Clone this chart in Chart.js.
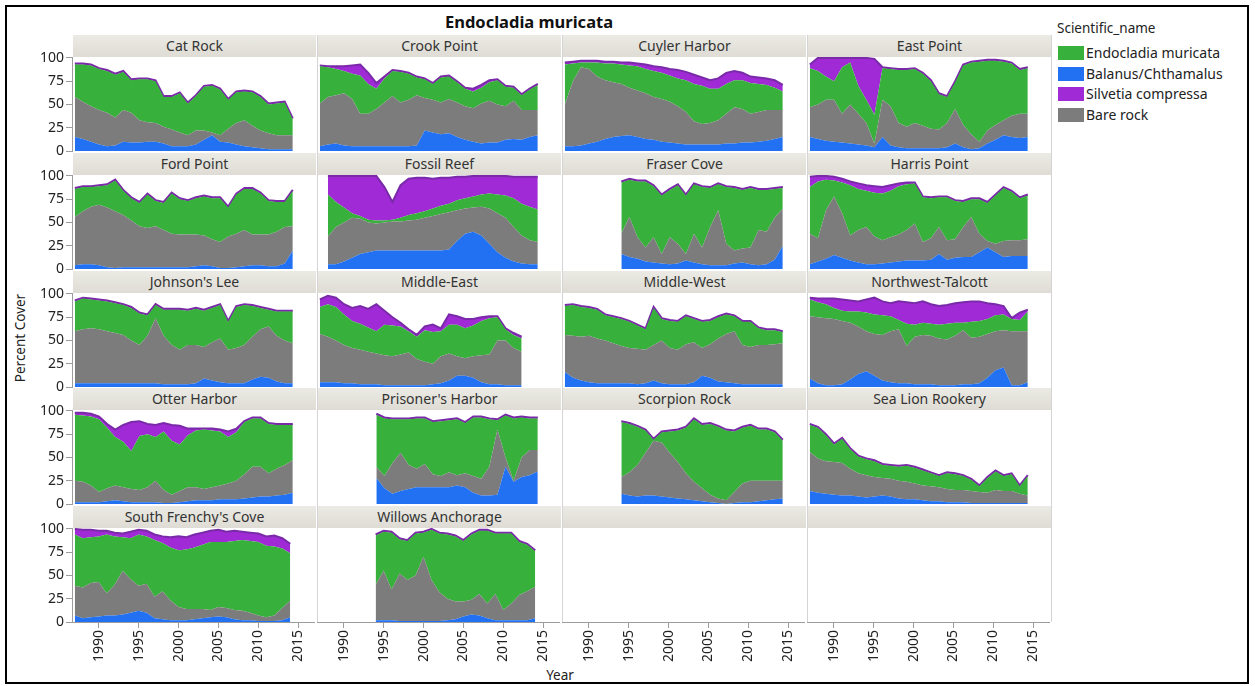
<!DOCTYPE html>
<html><head><meta charset="utf-8">
<script src="https://cdn.jsdelivr.net/npm/chart.js@4.4.1/dist/chart.umd.min.js"></script>
<style>
html,body{margin:0;padding:0;background:#fff}
body{width:1255px;height:686px;position:relative;overflow:hidden;font-family:"Noto Sans","DejaVu Sans",sans-serif;color:#222}
#frame{position:absolute;left:5px;top:5px;width:1244px;height:679px;border:2px solid #000;box-sizing:border-box}
.strip{position:absolute;height:22px;line-height:22px;text-align:center;font-size:14px;color:#333;background:linear-gradient(#ebeae4,#dedcd4);white-space:nowrap}
.vline{position:absolute;width:1px;background:#d4d4d4}
canvas{position:absolute}
.txt{position:absolute;white-space:nowrap}
.sw{position:absolute;width:26px;height:14px}
</style></head><body>
<div id="frame"></div>
<script>
// ---------------- DATA ----------------
const YEARS = [1987,1988,1989,1990,1991,1992,1993,1994,1995,1996,1997,1998,1999,2000,2001,2002,2003,2004,2005,2006,2007,2008,2009,2010,2011,2012,2013,2014];
const X_TICKS = [1990,1995,2000,2005,2010,2015];
const Y_TICKS = [0,25,50,75,100];
const ONES28 = [1,1,1,1,1,1,1,1,1,1,1,1,1,1,1,1,1,1,1,1,1,1,1,1,1,1,1,1];
const ONES21 = [1,1,1,1,1,1,1,1,1,1,1,1,1,1,1,1,1,1,1,1,1];

const catRock = {name:"Cat Rock", start:1987,
  balanus:[15,13,10,7,5,6,10,9,9,10,10,8,5,5,5,7,12,17,10,9,7,5,4,3,2,2,2,2],
  bare:[43,40,38,37,36,30,34,32,24,21,20,18,18,15,12,15,10,3,7,15,23,28,23,19,17,15,15,15],
  endocladia:[35,40,44,44,45,46,41,35,44,46,45,32,35,42,34,37,47,50,49,31,33,31,36,36,31,34,35,17],
  silvetia:ONES28};
const crookPoint = {name:"Crook Point", start:1987,
  balanus:[5,7,8,6,5,5,5,5,5,5,5,5,6,22,20,18,19,15,12,10,8,9,9,12,13,12,15,17],
  bare:[46,51,52,56,51,35,35,40,47,54,47,50,54,35,35,34,37,37,36,36,43,45,41,36,41,32,29,27],
  endocladia:[40,32,28,24,27,41,32,22,26,27,33,28,19,20,17,27,24,22,19,18,17,20,26,21,14,16,22,27],
  silvetia:[1,1,3,5,9,12,12,6,2,1,1,1,1,1,1,1,1,1,1,3,3,2,1,1,1,1,1,1]};
const cuylerHarbor = {name:"Cuyler Harbor", start:1987,
  balanus:[5,5,6,8,10,13,15,16,17,15,13,12,10,9,8,7,7,7,7,7,8,8,9,9,10,11,13,15],
  bare:[45,70,84,80,70,63,59,56,51,50,49,46,46,44,40,35,25,22,23,26,32,39,36,31,32,33,31,29],
  endocladia:[43,19,5,7,15,18,20,21,24,26,26,28,28,28,30,34,40,41,37,34,32,29,31,33,30,27,24,20],
  silvetia:[2,2,2,2,2,2,2,2,3,3,5,5,6,7,9,9,10,9,9,11,12,10,8,7,7,7,8,7]};
const eastPoint = {name:"East Point", start:1987,
  balanus:[15,13,11,10,9,8,7,6,4,15,6,4,3,3,3,3,3,4,8,4,2,3,8,12,17,15,14,15],
  bare:[32,37,44,45,31,42,33,24,4,40,42,26,23,27,24,21,20,26,37,24,16,7,14,16,16,23,26,25],
  endocladia:[42,36,25,20,50,45,30,25,31,34,40,57,61,58,56,51,38,28,29,64,77,86,75,69,63,56,47,49],
  silvetia:[4,14,20,25,10,5,30,45,60,1,1,1,1,1,1,1,1,1,1,1,1,1,1,1,1,1,1,1]};
const fordPoint = {name:"Ford Point", start:1987,
  balanus:[4,5,5,4,2,1,2,2,2,2,2,2,2,2,2,3,4,3,1,1,2,3,4,4,3,3,6,20],
  bare:[52,57,62,65,64,61,56,50,44,42,44,40,36,35,35,34,32,29,28,34,36,39,33,33,34,37,39,26],
  endocladia:[30,26,21,20,24,33,26,24,25,36,27,29,43,38,36,39,42,44,47,31,42,44,49,44,36,32,27,38],
  silvetia:ONES28};
const fossilReef = {name:"Fossil Reef", start:1988,
  balanus:[5,5,8,12,16,18,20,20,20,20,20,20,20,20,20,21,30,38,40,36,27,18,12,8,6,5,5],
  bare:[30,40,42,43,38,32,29,30,31,31,32,33,35,37,39,40,33,27,26,31,38,42,43,37,30,26,24],
  endocladia:[45,27,16,5,3,3,3,2,2,4,6,7,7,8,9,9,11,11,12,13,16,20,24,31,34,36,35],
  silvetia:[20,28,34,40,43,47,48,36,19,35,39,38,36,32,30,28,25,23,22,20,19,20,21,23,29,32,35]};
const fraserCove = {name:"Fraser Cove", start:1994,
  balanus:[16,13,11,8,7,6,5,6,9,7,5,4,4,4,6,7,5,4,5,10,25],
  bare:[22,43,23,15,27,10,29,21,7,31,18,41,59,23,14,15,18,38,35,45,40],
  endocladia:[55,40,60,71,55,63,51,63,63,53,65,42,28,61,67,63,64,43,45,31,22],
  silvetia:ONES21};
const harrisPoint = {name:"Harris Point", start:1987,
  balanus:[5,8,11,15,12,9,7,5,5,6,7,8,9,9,9,10,16,10,12,13,13,18,23,18,13,14,14,14],
  bare:[33,25,52,63,48,27,35,40,30,25,27,29,33,40,20,23,29,21,20,32,43,20,7,9,17,17,17,18],
  endocladia:[50,61,33,17,33,54,44,39,47,50,50,52,49,43,48,43,32,46,41,27,19,37,41,52,57,52,45,47],
  silvetia:[11,6,4,4,4,4,6,6,7,7,6,3,2,1,1,1,1,1,1,1,1,1,1,1,1,1,1,1]};
const johnsonsLee = {name:"Johnson's Lee", start:1987,
  balanus:[4,4,4,4,4,4,4,4,4,4,4,3,3,3,3,4,9,7,5,4,4,4,8,11,10,6,4,4],
  bare:[56,58,59,58,56,54,52,46,41,51,70,52,42,37,42,41,34,41,47,36,38,41,46,51,55,49,46,43],
  endocladia:[32,33,31,31,32,32,32,35,34,22,14,28,38,43,37,39,39,37,36,30,44,43,33,23,18,26,31,34],
  silvetia:ONES28};
const middleEast = {name:"Middle-East", start:1987,
  balanus:[5,5,5,4,4,3,3,3,2,2,2,2,2,2,3,4,7,12,12,10,5,3,3,2,2,2],
  bare:[52,49,45,41,38,37,35,33,32,31,33,35,28,25,22,29,29,21,19,23,29,32,47,48,40,36],
  endocladia:[29,35,36,33,29,28,26,24,33,33,30,23,24,34,34,27,31,34,32,33,37,39,25,12,14,14],
  silvetia:[8,9,10,11,14,19,20,29,15,9,4,2,2,4,8,3,11,9,10,7,4,2,1,1,2,2]};
const middleWest = {name:"Middle-West", start:1987,
  balanus:[16,10,7,5,4,4,4,4,4,3,4,7,4,3,3,3,5,12,10,6,5,4,3,3,3,3,3,3],
  bare:[40,45,47,50,48,46,43,40,38,38,36,38,46,39,37,43,43,30,36,46,52,56,42,40,42,42,43,44],
  endocladia:[31,33,32,30,31,27,28,29,28,25,22,40,23,29,30,30,25,28,25,23,21,16,25,27,18,16,15,12],
  silvetia:ONES28};
const northwestTalcott = {name:"Northwest-Talcott", start:1987,
  balanus:[9,4,2,2,3,8,14,17,12,7,5,4,4,3,3,3,2,2,2,3,3,4,10,18,21,2,2,5],
  bare:[67,71,72,71,68,61,51,43,45,49,55,58,40,51,53,52,50,49,53,58,50,50,47,42,40,58,58,55],
  endocladia:[18,16,15,12,11,12,16,20,21,21,16,10,24,13,13,13,15,17,14,8,17,17,16,17,17,13,12,21],
  silvetia:[2,4,6,10,12,12,11,14,18,15,14,20,23,23,23,21,20,20,21,22,22,21,17,12,9,1,8,2]};
const otterHarbor = {name:"Otter Harbor", start:1987,
  balanus:[2,2,2,2,3,4,3,2,2,2,2,1,1,2,3,4,4,4,5,5,5,6,7,8,8,9,10,12],
  bare:[23,22,18,11,14,16,15,14,13,16,23,14,9,12,15,14,12,14,15,17,20,26,33,32,25,29,32,35],
  endocladia:[71,71,74,78,65,52,49,41,58,57,47,63,58,50,56,61,64,61,58,50,52,56,52,52,53,47,43,38],
  silvetia:[2,3,3,3,4,8,18,31,16,11,13,9,17,20,7,2,1,2,2,6,4,1,1,1,1,1,1,1]};
const prisonersHarbor = {name:"Prisoner's Harbor", start:1994,
  balanus:[28,17,11,14,16,18,18,18,18,18,20,18,12,9,9,10,40,24,29,31,35],
  bare:[12,13,33,41,26,20,25,14,12,16,11,15,18,18,31,70,10,1,21,27,23],
  endocladia:[56,62,47,36,49,54,49,56,59,56,60,54,63,66,51,10,45,67,43,34,34],
  silvetia:ONES21};
const scorpionRock = {name:"Scorpion Rock", start:1994,
  balanus:[11,9,8,9,9,8,7,6,5,4,3,2,1,0,1,2,2,3,4,5,6],
  bare:[18,25,34,46,59,58,48,39,28,20,14,8,5,4,12,20,23,22,21,20,19],
  endocladia:[59,52,41,24,1,11,23,34,49,67,68,76,77,75,65,60,59,55,55,52,43],
  silvetia:ONES21};
const seaLionRookery = {name:"Sea Lion Rookery", start:1987,
  balanus:[14,12,11,10,9,9,8,7,8,9,8,6,5,5,4,3,3,2,2,2,1,1,1,1,1,1,1,1],
  bare:[42,37,35,35,35,29,25,24,21,19,19,19,19,17,16,16,15,14,13,13,13,12,11,14,13,13,10,8],
  endocladia:[29,33,28,19,26,21,18,17,17,14,14,15,17,17,16,14,12,17,17,15,12,6,16,20,16,18,8,21],
  silvetia:ONES28};
const southFrenchysCove = {name:"South Frenchy's Cove", start:1987,
  balanus:[7,4,5,6,7,7,8,10,12,10,4,3,2,2,2,3,4,5,6,5,3,2,2,1,1,1,2,5],
  bare:[32,33,37,37,24,33,47,36,27,31,23,30,21,14,12,11,10,8,10,10,10,10,8,6,4,6,13,18],
  endocladia:[55,53,49,49,63,52,36,44,55,51,61,52,57,61,64,66,69,73,70,71,74,76,77,79,77,74,64,51],
  silvetia:[6,9,8,6,4,4,4,7,5,6,6,7,11,15,13,14,13,12,13,11,11,9,9,9,10,12,11,10]};
const willowsAnchorage = {name:"Willows Anchorage", start:1994,
  balanus:[2,2,2,1,1,1,1,1,1,2,3,6,8,7,4,2,2,2,2,2,4],
  bare:[38,53,33,51,44,49,69,44,31,23,19,16,16,23,16,28,11,18,27,31,34],
  endocladia:[53,42,61,37,42,45,26,54,63,69,70,65,70,68,78,65,82,75,57,50,38],
  silvetia:ONES21};

const SITES = [catRock, crookPoint, cuylerHarbor, eastPoint,
  fordPoint, fossilReef, fraserCove, harrisPoint,
  johnsonsLee, middleEast, middleWest, northwestTalcott,
  otterHarbor, prisonersHarbor, scorpionRock, seaLionRookery,
  southFrenchysCove, willowsAnchorage];

// stacking order bottom -> top
const SERIES = [
  {key:"balanus", label:"Balanus/Chthamalus", color:"#2171f2"},
  {key:"bare", label:"Bare rock", color:"#7c7c7c"},
  {key:"endocladia", label:"Endocladia muricata", color:"#37b13c"},
  {key:"silvetia", label:"Silvetia compressa", color:"#a02bd6"}
];
const LEGEND_ORDER = ["endocladia","balanus","silvetia","bare"];

// ---------------- LAYOUT ----------------
const FONT = '"Noto Sans", "DejaVu Sans", sans-serif';
const COL_LEFTS = [72, 317, 562, 807];
const COL_W = 245;
const PLOT_TOPS = [57, 175, 293, 410, 528];
const PLOT_H = 94;
const STRIP_H = 22;
const Y_AXIS_W = 65;
const X_AXIS_H = 50;
const PAD = 12;
const X_MIN = 1986.65, X_MAX = 2017.0;
const Y_MIN = 0, Y_MAX = 101;
const AXIS_COLOR = "#9c9c9c";
const TOP_LINE = "#7a2aa8";

const body = document.body;
function add(tag, cls, css, text){
  const e = document.createElement(tag);
  if (cls) e.className = cls;
  Object.assign(e.style, css);
  if (text != null) e.textContent = text;
  body.appendChild(e);
  return e;
}

// title & axis titles
add("div","txt",{left:"0px",width:"1058px",top:"10px",textAlign:"center",fontSize:"16.5px",fontWeight:"bold",color:"#111"},"Endocladia muricata");
add("div","txt",{left:"20px",top:"338px",fontSize:"13.5px",transform:"translate(-50%,-50%) rotate(-90deg)"},"Percent Cover");
add("div","txt",{left:"560px",top:"675px",fontSize:"13.5px",transform:"translate(-50%,-50%)"},"Year");

// legend
add("div","txt",{left:"1057px",top:"19px",fontSize:"13.5px",lineHeight:"18px"},"Scientific_name");
LEGEND_ORDER.forEach((k,i)=>{
  const s = SERIES.find(q=>q.key===k);
  const top = 46 + i*20.7;
  add("div","sw",{left:"1058px",top:top+"px",background:s.color});
  add("div","txt",{left:"1086px",top:(top-2)+"px",fontSize:"14px",lineHeight:"18px"},s.label);
});

// frame lines between columns
[317,562,807,1051].forEach(x=>{
  add("div","vline",{left:x+"px",top:"35px",height:(622-35)+"px"});
});

for (let i=0;i<20;i++){
  const r = Math.floor(i/4), c = i%4;
  const site = SITES[i];
  const left = COL_LEFTS[c], top = PLOT_TOPS[r];
  add("div","strip",{left:(left+1)+"px",top:(top-STRIP_H)+"px",width:(COL_W-2)+"px"}, site?site.name:"");
  const hasY = c===0, hasX = r===4;
  const cw = COL_W + (hasY?Y_AXIS_W:0);
  const ch = PAD + PLOT_H + (hasX?X_AXIS_H:PAD);
  const cv = add("canvas",null,{left:(left-(hasY?Y_AXIS_W:0))+"px",top:(top-PAD)+"px",width:cw+"px",height:ch+"px"});
  cv.width = cw; cv.height = ch;
  let datasets = [];
  if (site){
    const i0 = YEARS.indexOf(site.start);
    const yrs = YEARS.slice(i0, i0 + site.balanus.length);
    datasets = SERIES.map((s,k)=>({
      label:s.label,
      data: site[s.key].map((v,j)=>({x:yrs[j], y:v})),
      fill: k===0 ? "origin" : "-1",
      backgroundColor: s.color,
      borderColor: k===3 ? TOP_LINE : s.color,
      borderWidth: k===3 ? 2 : 0,
      pointRadius:0, tension:0
    }));
  }
  new Chart(cv, {
    type:"line",
    data:{datasets},
    options:{
      responsive:false, animation:false, events:[], devicePixelRatio:1,
      layout:{padding:{top:PAD, bottom:hasX?0:PAD, left:0, right:0}, autoPadding:false},
      plugins:{legend:{display:false}, title:{display:false}, tooltip:{enabled:false}},
      scales:{
        x:{type:"linear", min:X_MIN, max:X_MAX, display:hasX, position:"bottom",
           afterBuildTicks:s=>{ s.ticks = X_TICKS.map(v=>({value:v})); },
           afterFit:s=>{ s.height = hasX ? X_AXIS_H : 0; },
           grid:{drawOnChartArea:false, tickLength:6, color:AXIS_COLOR},
           border:{display:true, color:AXIS_COLOR},
           ticks:{minRotation:90, maxRotation:90, autoSkip:false, padding:2,
                  font:{family:FONT, size:14}, color:"#222", callback:v=>String(v)}},
        y:{type:"linear", stacked:true, min:Y_MIN, max:Y_MAX, display:hasY,
           afterBuildTicks:s=>{ s.ticks = Y_TICKS.map(v=>({value:v})); },
           afterFit:s=>{ s.width = hasY ? Y_AXIS_W : 0; },
           grid:{drawOnChartArea:false, tickLength:6, color:AXIS_COLOR},
           border:{display:true, color:AXIS_COLOR},
           ticks:{padding:2, font:{family:FONT, size:14}, color:"#222", callback:v=>String(v)}}
      }
    }
  });
}
</script>
</body></html>
